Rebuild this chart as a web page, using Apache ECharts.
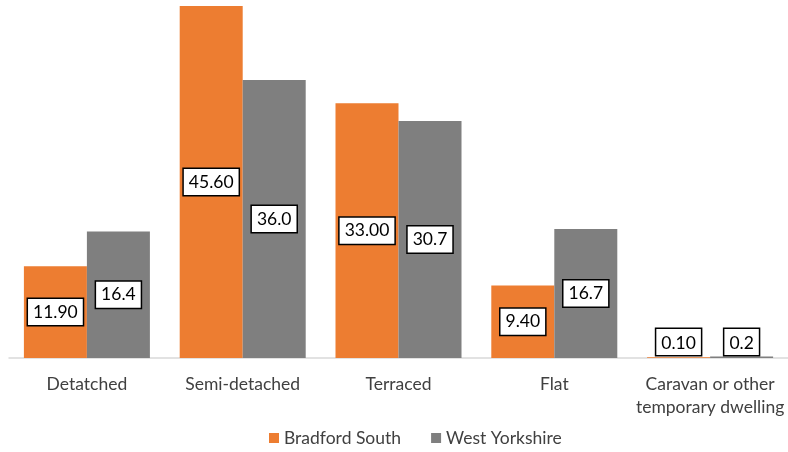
<!DOCTYPE html>
<html>
<head>
<meta charset="utf-8">
<script src="https://cdn.jsdelivr.net/npm/echarts@6/dist/echarts.min.js"></script>
<style>
  html, body { margin: 0; padding: 0; background: #fff; }
  #chart { width: 788px; height: 452px; }
</style>
</head>
<body>
<div id="chart"></div>
<script>
var categories = ['Detatched', 'Semi-detached', 'Terraced', 'Flat', 'Caravan or other\ntemporary dwelling'];
var bradford = [11.90, 45.60, 33.00, 9.40, 0.10];
var westYorks = [16.4, 36.0, 30.7, 16.7, 0.2];
var bradfordText = ['11.90', '45.60', '33.00', '9.40', '0.10'];
var westYorksText = ['16.4', '36.0', '30.7', '16.7', '0.2'];

var font = 'Lato, "Open Sans", sans-serif';

// boxed value labels, like the Excel data callouts
function boxLabel(texts) {
    return {
        show: true,
        position: 'inside',
        color: '#000',
        fontFamily: font,
        fontSize: 17.5,
        backgroundColor: '#fff',
        borderColor: '#000',
        borderWidth: 1.5,
        padding: [5, 5, 3, 5],
        formatter: function (p) { return texts[p.dataIndex]; }
    };
}

// tiny bars: put the label just above the axis instead of centred
function withLabels(values) {
    return values.map(function (v) {
        if (v < 1) {
            return { value: v, label: { position: 'insideBottom', distance: 3 } };
        }
        return v;
    });
}

var myChart = echarts.init(document.getElementById('chart'));
myChart.setOption({
    animation: false,
    grid: { left: 9, right: 0, top: 6, bottom: 94 },
    legend: {
        bottom: 0,
        left: 264,
        itemWidth: 10,
        itemHeight: 10,
        itemGap: 30,
        icon: 'rect',
        textStyle: { fontFamily: font, fontSize: 17.5, color: '#404040' },
        data: ['Bradford South', 'West Yorkshire']
    },
    xAxis: {
        type: 'category',
        data: categories,
        axisLine: { lineStyle: { color: '#D9D9D9', width: 1.5 } },
        axisTick: { show: false },
        axisLabel: {
            margin: 15,
            fontFamily: font,
            fontSize: 17.5,
            color: '#404040',
            lineHeight: 23,
            interval: 0
        }
    },
    yAxis: {
        type: 'value',
        min: 0,
        max: 45.6,
        show: false,
        splitLine: { show: false }
    },
    series: [{
        name: 'Bradford South',
        type: 'bar',
        barWidth: 63,
        barGap: '0%',
        itemStyle: { color: '#ED7D31' },
        label: boxLabel(bradfordText),
        data: withLabels(bradford)
    }, {
        name: 'West Yorkshire',
        type: 'bar',
        barWidth: 63,
        barGap: '0%',
        itemStyle: { color: '#7F7F7F' },
        label: boxLabel(westYorksText),
        data: withLabels(westYorks)
    }]
});
</script>
</body>
</html>
